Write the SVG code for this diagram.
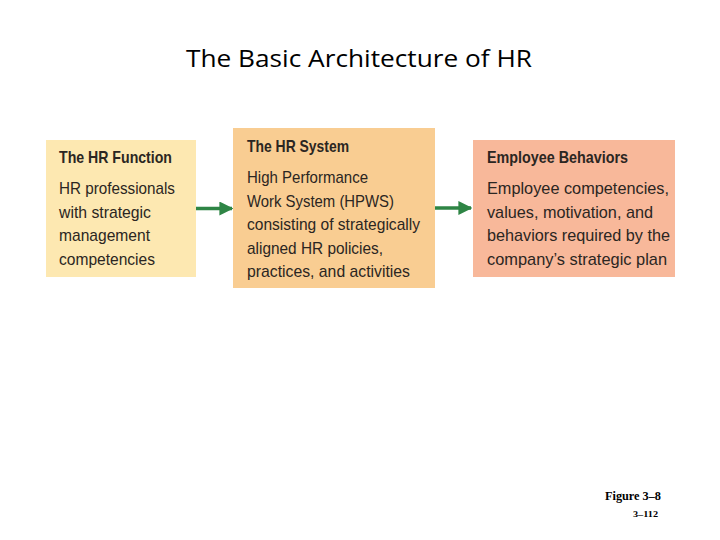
<svg xmlns="http://www.w3.org/2000/svg" width="720" height="540" viewBox="0 0 720 540">
<style>
.t{font-family:"Liberation Sans",Arial,sans-serif;font-size:17px;fill:#2b2622}
.h{font-weight:bold}
.title{font-family:"Open Sans","Liberation Sans",sans-serif;font-size:24px;fill:#000}
.fig{font-family:"Liberation Serif","Times New Roman",serif;font-weight:bold;fill:#000}
.c{stroke:#2e8545;stroke-width:3.5;fill:none}
</style>
<defs>
<marker id="ah" viewBox="0 0 10 10" refX="9" refY="5" markerWidth="4" markerHeight="4" orient="auto" markerUnits="strokeWidth">
<path d="M0,0 L10,5 L0,10 Z" fill="#2e8545"/>
</marker>
</defs>
<rect width="720" height="540" fill="#fff"/>
<text class="title" x="359" y="67" text-anchor="middle" textLength="346" lengthAdjust="spacingAndGlyphs">The Basic Architecture of HR</text>
<g id="connectors">
<line class="c" x1="195" y1="208.5" x2="232" y2="208.5" marker-end="url(#ah)"/>
<line class="c" x1="435" y1="208" x2="471" y2="208" marker-end="url(#ah)"/>
</g>
<g id="hr-function">
<rect x="46" y="140" width="150" height="137" fill="#fde8b1"/>
<text class="t h" x="59" y="163" textLength="113" lengthAdjust="spacingAndGlyphs">The HR Function</text>
<text class="t" x="59" y="194" textLength="116" lengthAdjust="spacingAndGlyphs">HR professionals</text>
<text class="t" x="59" y="217.5" textLength="92" lengthAdjust="spacingAndGlyphs">with strategic</text>
<text class="t" x="59" y="241" textLength="91" lengthAdjust="spacingAndGlyphs">management</text>
<text class="t" x="59" y="264.5" textLength="96" lengthAdjust="spacingAndGlyphs">competencies</text>
</g>
<g id="hr-system">
<rect x="233" y="128" width="202" height="160" fill="#f9cd92"/>
<text class="t h" x="247" y="152" textLength="102" lengthAdjust="spacingAndGlyphs">The HR System</text>
<text class="t" x="247" y="183" textLength="121" lengthAdjust="spacingAndGlyphs">High Performance</text>
<text class="t" x="247" y="206.5" textLength="147" lengthAdjust="spacingAndGlyphs">Work System (HPWS)</text>
<text class="t" x="247" y="230" textLength="173" lengthAdjust="spacingAndGlyphs">consisting of strategically</text>
<text class="t" x="247" y="253.5" textLength="136" lengthAdjust="spacingAndGlyphs">aligned HR policies,</text>
<text class="t" x="247" y="277" textLength="163" lengthAdjust="spacingAndGlyphs">practices, and activities</text>
</g>
<g id="employee-behaviors">
<rect x="473" y="140" width="202" height="137" fill="#f8b89a"/>
<text class="t h" x="487" y="163" textLength="141" lengthAdjust="spacingAndGlyphs">Employee Behaviors</text>
<text class="t" x="487" y="194" textLength="182" lengthAdjust="spacingAndGlyphs">Employee competencies,</text>
<text class="t" x="487" y="217.5" textLength="166" lengthAdjust="spacingAndGlyphs">values, motivation, and</text>
<text class="t" x="487" y="241" textLength="183" lengthAdjust="spacingAndGlyphs">behaviors required by the</text>
<text class="t" x="487" y="264.5" textLength="180" lengthAdjust="spacingAndGlyphs">company’s strategic plan</text>
</g>
<text class="fig" x="605" y="500" font-size="12" textLength="56" lengthAdjust="spacingAndGlyphs">Figure 3–8</text>
<text class="fig" x="633" y="517" font-size="9" textLength="25" lengthAdjust="spacingAndGlyphs">3–112</text>
</svg>
